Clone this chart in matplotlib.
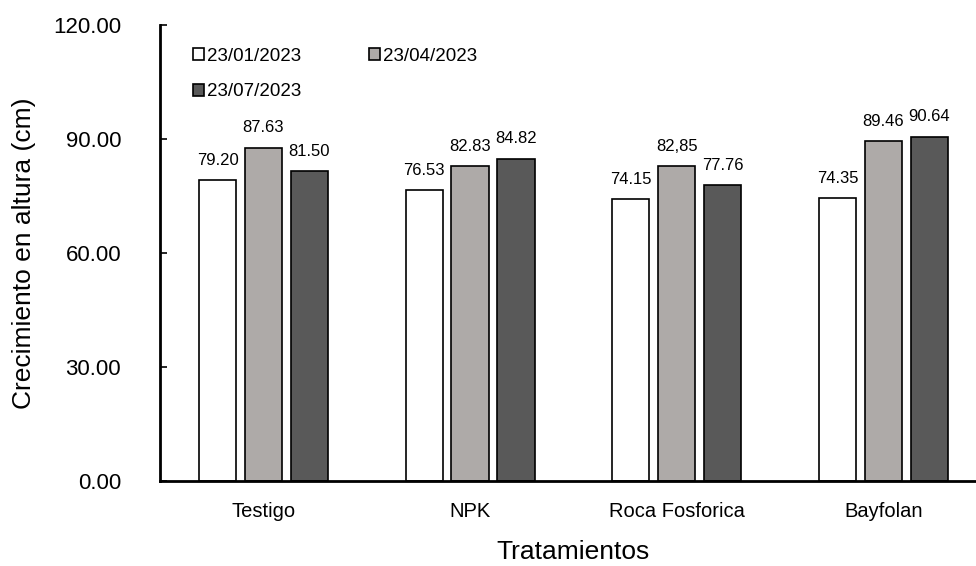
import numpy as np
import matplotlib
matplotlib.use("Agg")
import matplotlib.pyplot as plt
from matplotlib.patches import Patch
from matplotlib.ticker import FormatStrFormatter

plt.rcParams['font.family'] = ['Liberation Sans', 'DejaVu Sans']

tratamientos = ['Testigo', 'NPK', 'Roca Fosforica', 'Bayfolan']
fechas = ['23/01/2023', '23/04/2023', '23/07/2023']
altura_ene = [79.20, 76.53, 74.15, 74.35]
altura_abr = [87.63, 82.83, 82.85, 89.46]
altura_jul = [81.50, 84.82, 77.76, 90.64]
etiquetas_ene = ['79.20', '76.53', '74.15', '74.35']
etiquetas_abr = ['87.63', '82.83', '82,85', '89.46']
etiquetas_jul = ['81.50', '84.82', '77.76', '90.64']

series = [altura_ene, altura_abr, altura_jul]
etiquetas = [etiquetas_ene, etiquetas_abr, etiquetas_jul]
colores = ['#ffffff', '#aeaaa8', '#595959']

fig = plt.figure(figsize=(9.76, 5.66), dpi=100)
ax = fig.add_axes([0.164, 0.150, 0.847, 0.806])

x = np.arange(len(tratamientos))
ancho = 0.18
paso = 0.222
for i, (vals, labs, col) in enumerate(zip(series, etiquetas, colores)):
    pos = x + (i - 1) * paso
    ax.bar(pos, vals, width=ancho, color=col, edgecolor='black', linewidth=1.2)
    for px, v, t in zip(pos, vals, labs):
        ax.annotate(t, (px, v), xytext=(0, 9), textcoords='offset points',
                    ha='center', va='bottom', fontsize=12)

ax.set_xlim(-0.5, 3.5)
ax.set_ylim(0, 120)
ax.set_yticks([0, 30, 60, 90, 120])
ax.yaxis.set_major_formatter(FormatStrFormatter('%.2f'))
ax.set_xticks(x)
ax.set_xticklabels(tratamientos)
ax.tick_params(axis='x', length=0, labelsize=14.5, pad=15)
ax.tick_params(axis='y', direction='in', length=5, width=1.2, labelsize=16, pad=28)

for s in ['top', 'right']:
    ax.spines[s].set_visible(False)
for s in ['left', 'bottom']:
    ax.spines[s].set_linewidth(2)

ax.set_xlabel('Tratamientos', fontsize=19, labelpad=14)
ax.set_ylabel('Crecimiento en altura (cm)', fontsize=19, labelpad=12)

# legend filled by rows: ene, abr / jul
handles = [Patch(facecolor=c, edgecolor='black', linewidth=1.2) for c in colores]
orden = [0, 2, 1]
ax.legend([handles[k] for k in orden], [fechas[k] for k in orden], ncol=2,
          loc='upper left', bbox_to_anchor=(0.04, 0.95),
          frameon=False, fontsize=13.5, handlelength=0.6, handleheight=0.6,
          handletextpad=0.15, columnspacing=3.6, borderpad=0, borderaxespad=0,
          labelspacing=1.0)

fig.savefig('out.png', dpi=100)
